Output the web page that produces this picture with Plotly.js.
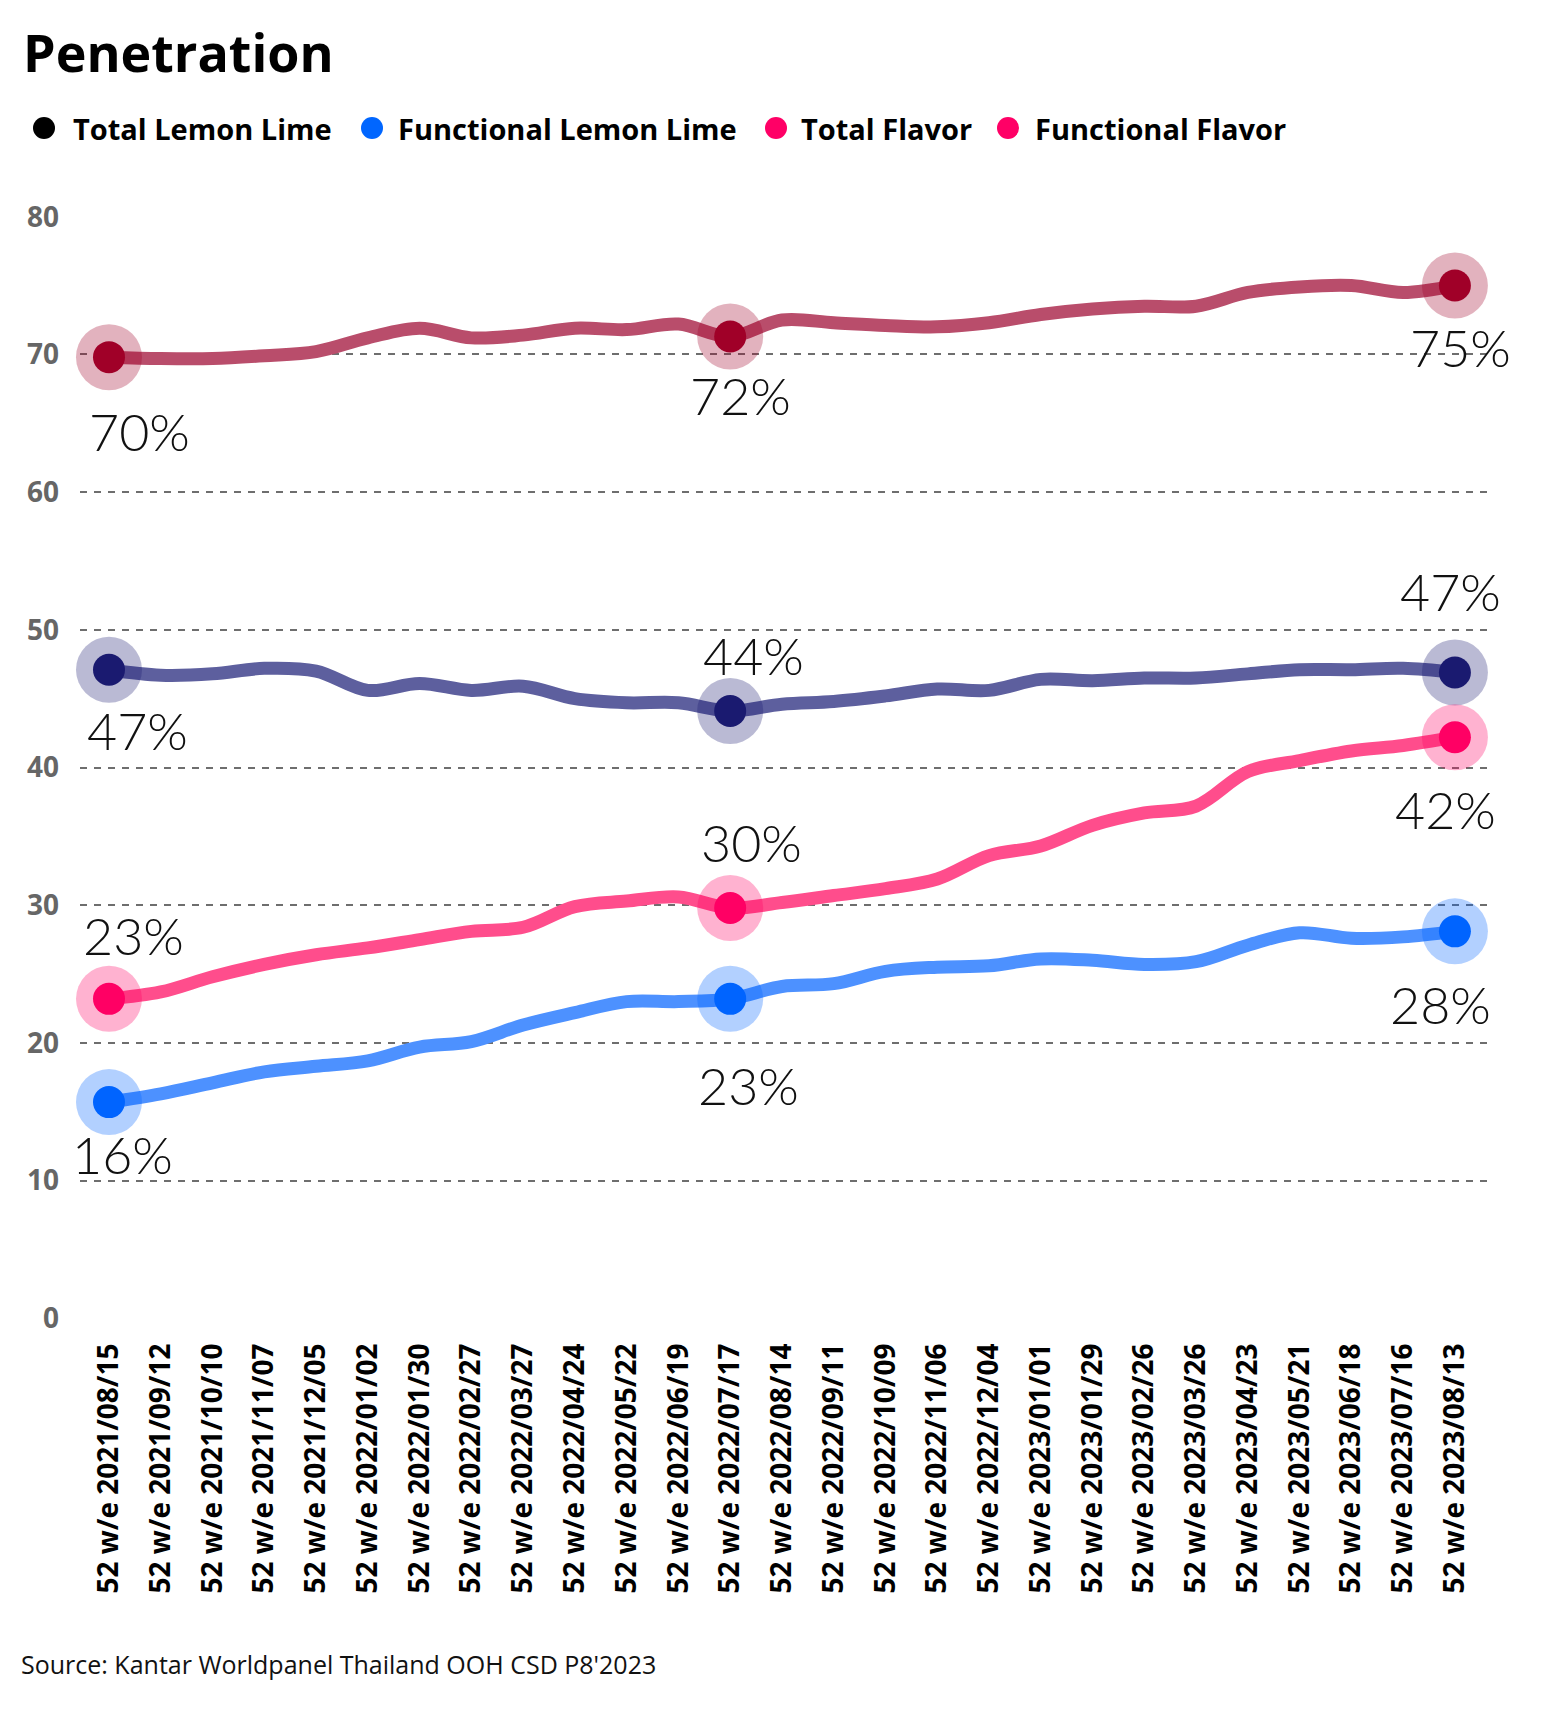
<!DOCTYPE html>
<html>
<head>
<meta charset="utf-8">
<script src="https://cdn.plot.ly/plotly-3.0.1.min.js"></script>
<style>html,body{margin:0;padding:0;background:#fff;}#chart{width:1542px;height:1709px;}</style>
</head>
<body>
<div id="chart"></div>
<script>
// ---------- DATA ----------
const categories = [
  "52 w/e 2021/08/15","52 w/e 2021/09/12","52 w/e 2021/10/10","52 w/e 2021/11/07","52 w/e 2021/12/05",
  "52 w/e 2022/01/02","52 w/e 2022/01/30","52 w/e 2022/02/27","52 w/e 2022/03/27","52 w/e 2022/04/24",
  "52 w/e 2022/05/22","52 w/e 2022/06/19","52 w/e 2022/07/17","52 w/e 2022/08/14","52 w/e 2022/09/11",
  "52 w/e 2022/10/09","52 w/e 2022/11/06","52 w/e 2022/12/04","52 w/e 2023/01/01","52 w/e 2023/01/29",
  "52 w/e 2023/02/26","52 w/e 2023/03/26","52 w/e 2023/04/23","52 w/e 2023/05/21","52 w/e 2023/06/18",
  "52 w/e 2023/07/16","52 w/e 2023/08/13"
];
const totalFlavor = [69.8,69.7,69.7,69.9,70.2,71.2,71.9,71.2,71.4,71.9,71.8,72.2,71.3,72.5,72.3,72.1,72.0,72.3,72.9,73.3,73.5,73.5,74.5,74.9,75.0,74.5,75.0];
const totalLemonLime = [47.1,46.7,46.8,47.2,47.0,45.6,46.1,45.6,45.9,45.0,44.7,44.7,44.1,44.6,44.8,45.2,45.7,45.6,46.4,46.3,46.5,46.5,46.8,47.1,47.1,47.2,46.9];
const functionalFlavor = [23.2,23.7,24.8,25.7,26.4,26.9,27.5,28.1,28.4,29.9,30.3,30.6,29.8,30.2,30.7,31.2,31.9,33.6,34.3,35.8,36.7,37.2,39.7,40.5,41.2,41.6,42.2];
const functionalLemonLime = [15.7,16.3,17.1,17.9,18.3,18.7,19.7,20.1,21.3,22.2,23.0,23.0,23.2,24.1,24.3,25.2,25.5,25.6,26.1,26.0,25.7,25.9,27.1,28.0,27.6,27.7,28.1];
const highlightIdx = [0, 12, 26];
const totalFlavorLabels = ["70%","72%","75%"];
const totalLemonLimeLabels = ["47%","44%","47%"];
const functionalFlavorLabels = ["23%","30%","42%"];
const functionalLemonLimeLabels = ["16%","23%","28%"];
const legendNames = ["Total Lemon Lime","Functional Lemon Lime","Total Flavor","Functional Flavor"];
const yTicks = [0,10,20,30,40,50,60,70,80];
const titleText = "Penetration";
const sourceText = "Source: Kantar Worldpanel Thailand OOH CSD P8'2023";

// ---------- STYLE ----------
const BOLD = "'Open Sans', Lato, sans-serif";
const LIGHT = "Lato, 'Open Sans', sans-serif";
const W = 1542, H = 1709, L = 80, R = 1487, T = 216, B = 1319;
const px2x = px => (px - L) / (R - L);
const px2y = py => (B - py) / (B - T);
const LABEL_LIFT = 6;

const series = [
  {y: totalFlavor, labels: totalFlavorLabels, line: "rgb(185,77,107)", core: "rgb(160,0,40)", halo: "rgba(160,0,40,0.3)",
   offs: [[31,-80],[10,-65],[6,-67]]},
  {y: totalLemonLime, labels: totalLemonLimeLabels, line: "rgb(93,95,158)", core: "rgb(26,26,112)", halo: "rgba(26,26,112,0.3)",
   offs: [[29,-66],[23,50],[-4,75]]},
  {y: functionalFlavor, labels: functionalFlavorLabels, line: "rgb(255,77,140)", core: "rgb(255,0,100)", halo: "rgba(255,0,100,0.3)",
   offs: [[25,58],[21,60],[-9,-78]]},
  {y: functionalLemonLime, labels: functionalLemonLimeLabels, line: "rgb(77,145,255)", core: "rgb(0,100,255)", halo: "rgba(0,100,255,0.3)",
   offs: [[14,-58],[18,-92],[-14,-79]]}
];

const traces = [];
const annotations = [];
series.forEach(s => {
  traces.push({x: categories, y: s.y, type: "scatter", mode: "lines",
    line: {color: s.line, width: 13, shape: "spline", smoothing: 1},
    hoverinfo: "skip", showlegend: false, cliponaxis: false});
  const hx = highlightIdx.map(i => categories[i]);
  const hy = highlightIdx.map(i => s.y[i]);
  traces.push({x: hx, y: hy, type: "scatter", mode: "markers",
    marker: {size: 66, color: s.halo, line: {width: 0}}, hoverinfo: "skip", showlegend: false, cliponaxis: false});
  traces.push({x: hx, y: hy, type: "scatter", mode: "markers",
    marker: {size: 32, color: s.core, line: {width: 0}}, hoverinfo: "skip", showlegend: false, cliponaxis: false});
  highlightIdx.forEach((idx, k) => {
    annotations.push({x: categories[idx], y: s.y[idx], xref: "x", yref: "y", text: s.labels[k],
      showarrow: false, xanchor: "center", yanchor: "middle", xshift: s.offs[k][0], yshift: s.offs[k][1] + LABEL_LIFT,
      font: {family: LIGHT, size: 52, weight: 300, color: "#111"}});
  });
});

// legend (manual)
const legendColors = ["#000000", "#0066ff", "#ff0066", "#ff0066"];
const legendCircleX = [44, 372, 776, 1008];
const legendTextX = [71, 396, 799, 1033];
const legendY = 128;
const shapes = [];
legendNames.forEach((n, i) => {
  shapes.push({type: "circle", xref: "paper", yref: "paper", xsizemode: "pixel", ysizemode: "pixel",
    xanchor: px2x(legendCircleX[i]), yanchor: px2y(legendY), x0: -11, x1: 11, y0: -11, y1: 11,
    fillcolor: legendColors[i], line: {width: 0}});
  annotations.push({x: px2x(legendTextX[i]), y: px2y(legendY), xref: "paper", yref: "paper", text: n,
    showarrow: false, xanchor: "left", yanchor: "middle",
    font: {family: BOLD, size: 29, weight: 700, color: "#000"}});
});
annotations.push({x: px2x(19), y: px2y(1664), xref: "paper", yref: "paper", text: sourceText,
  showarrow: false, xanchor: "left", yanchor: "middle", font: {family: BOLD, size: 25, weight: 400, color: "#111"}});

const layout = {
  width: W, height: H,
  margin: {l: L, r: W - R, t: T, b: H - B, pad: 0},
  paper_bgcolor: "#fff", plot_bgcolor: "#fff",
  title: {text: titleText, x: 23 / W, xref: "container", xanchor: "left", y: 1 - 54 / H, yref: "container", yanchor: "middle",
    font: {family: BOLD, size: 52, weight: 700, color: "#000"}},
  xaxis: {type: "category", categoryorder: "array", categoryarray: categories, range: [-0.56, 26.62],
    showgrid: false, zeroline: false, showline: false, ticks: "", tickangle: -90, ticklabelstandoff: 18,
    tickfont: {family: BOLD, size: 28, weight: 700, color: "#000"}, fixedrange: true},
  yaxis: {range: [-0.05, 80.05], tickvals: yTicks, showgrid: true, gridcolor: "#6e6e6e", gridwidth: 2, griddash: "7px,7px",
    zeroline: false, showline: false, ticks: "", ticklabelstandoff: 20,
    tickfont: {family: BOLD, size: 28, weight: 700, color: "#666"}, fixedrange: true},
  annotations: annotations, shapes: shapes, showlegend: false
};

Plotly.newPlot("chart", traces, layout, {displayModeBar: false, staticPlot: true});
</script>
</body>
</html>
